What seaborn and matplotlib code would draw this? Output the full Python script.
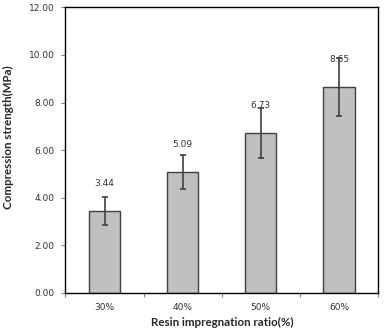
import matplotlib
matplotlib.use("Agg")
import matplotlib.pyplot as plt
import seaborn as sns
import numpy as np
import pandas as pd
from matplotlib.ticker import FixedLocator, MultipleLocator, FormatStrFormatter

categories = ["30%", "40%", "50%", "60%"]
values = [3.44, 5.09, 6.73, 8.65]
errors = [0.58, 0.70, 1.04, 1.21]
value_labels = ["3.44", "5.09", "6.73", "8.65"]

sns.set_theme(style="white")
plt.rcParams['font.family'] = ['DejaVu Sans']

df = pd.DataFrame({"ratio": categories, "strength": values})

fig = plt.figure(figsize=(3.85, 3.36), dpi=100)
ax = fig.add_axes([0.170, 0.128, 0.812, 0.850])

sns.barplot(data=df, x="ratio", y="strength", color="#c0c0c0", width=0.40,
            edgecolor="#404040", linewidth=1.0, saturation=1, errorbar=None, ax=ax)
ax.errorbar(np.arange(len(values)), values, yerr=errors, fmt="none",
            ecolor="#404040", elinewidth=1.2, capsize=2.0, capthick=1.2, zorder=5)

for i, (v, t) in enumerate(zip(values, value_labels)):
    ax.text(i, v + 1.15, t, ha="center", va="center", fontsize=6.5, color="#333333")

ax.set_xlim(-0.5, 3.5)
ax.set_ylim(0, 12)
ax.yaxis.set_major_locator(MultipleLocator(2))
ax.yaxis.set_major_formatter(FormatStrFormatter("%.2f"))
ax.tick_params(axis="y", which="major", left=True, length=3, width=0.8,
               color="#888888", labelsize=6.5, labelcolor="#333333", pad=5)
ax.tick_params(axis="x", which="major", bottom=False, labelsize=6.5,
               labelcolor="#333333", pad=1)
ax.xaxis.set_minor_locator(FixedLocator([-0.5, 0.5, 1.5, 2.5, 3.5]))
ax.tick_params(axis="x", which="minor", bottom=True, length=3, width=0.8, color="#888888")

for s in ax.spines.values():
    s.set_visible(True)
    s.set_color("black")
    s.set_linewidth(1.0)

ax.set_xlabel("Resin impregnation ratio(%)", fontsize=8.3, fontweight="bold",
              family=["Lato", "DejaVu Sans"], labelpad=4)
ax.set_ylabel("Compression strength(MPa)", fontsize=8.3, fontweight="bold",
              family=["Lato", "DejaVu Sans"])
ax.yaxis.set_label_coords(-0.165, 0.546)

fig.savefig("out.png", dpi=100)
